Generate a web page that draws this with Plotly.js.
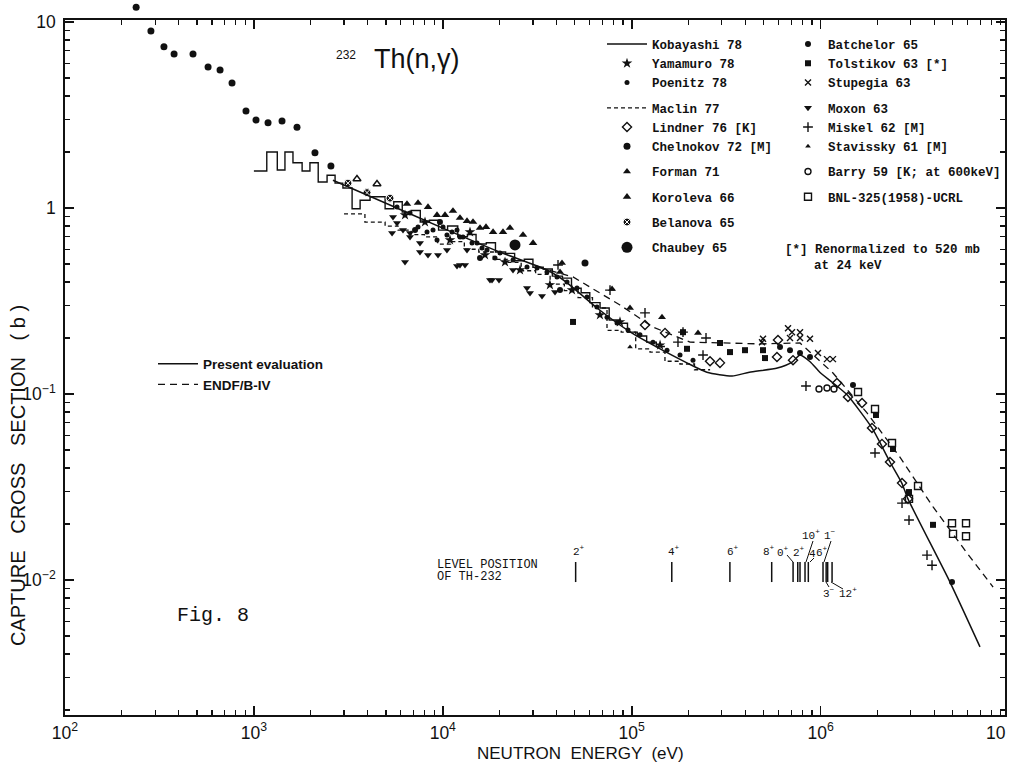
<!DOCTYPE html>
<html>
<head>
<meta charset="utf-8">
<script src="https://cdn.plot.ly/plotly-3.0.1.min.js"></script>
<style>html,body{margin:0;padding:0;background:#fff}#chart{width:1009px;height:762px}</style>
</head>
<body>
<div id="chart"></div>
<script>
// ---------------- data (E in eV, sigma in barn) ----------------
const presentE = [2620, 5000, 10000, 20000, 35600, 45000, 65500, 100000, 130000, 196000, 250000, 340000, 420000, 590000, 710000, 778000, 880000, 990000, 1160000, 1380000, 1870000, 2330000, 2690000, 2900000, 4840000, 6980000];
const presentS = [1.41, 1.06, 0.78, 0.58, 0.464, 0.40, 0.29, 0.213, 0.183, 0.147, 0.131, 0.125, 0.131, 0.138, 0.149, 0.162, 0.149, 0.131, 0.115, 0.099, 0.0657, 0.0431, 0.0332, 0.0273, 0.00975, 0.00437];

const endfE = [32000, 48900, 86700, 129600, 203500, 478000, 778000, 1163000, 1761000, 2630000, 3940000, 5960000, 8190000];
const endfS = [0.48, 0.426, 0.301, 0.229, 0.190, 0.186, 0.188, 0.1297, 0.0791, 0.0458, 0.0247, 0.01396, 0.00916];

const kobayashiE = [1000, 1170, 1330, 1460, 1610, 1800, 1980, 2190, 2440, 2690, 2960, 3310, 3650, 4120, 4950, 5500, 6100, 6800, 7600, 8500, 9500, 10600, 12000, 13500, 15000, 17000, 19000, 21500, 24000, 27000, 30000, 34000, 38000, 43000, 48000, 54000, 60000, 68000, 76000, 85000, 95000, 107000, 120000, 135000, 150000];
const kobayashiS = [1.58, 2.0, 1.6, 2.0, 1.75, 1.58, 1.75, 1.38, 1.50, 1.36, 1.28, 0.99, 1.10, 1.15, 0.99, 1.08, 0.95, 0.97, 0.84, 0.86, 0.76, 0.80, 0.70, 0.72, 0.64, 0.65, 0.58, 0.57, 0.52, 0.53, 0.48, 0.47, 0.43, 0.42, 0.37, 0.35, 0.31, 0.29, 0.25, 0.24, 0.215, 0.205, 0.19, 0.18, 0.18];

const maclinE = [3000, 3870, 4950, 5800, 6800, 8000, 9400, 11000, 13000, 15500, 18500, 22000, 26000, 31000, 37000, 44000, 52000, 62000, 74000, 88000, 105000, 125000, 150000, 180000, 215000, 260000];
const maclinS = [0.93, 0.84, 0.80, 0.76, 0.72, 0.70, 0.64, 0.66, 0.60, 0.58, 0.53, 0.51, 0.46, 0.44, 0.39, 0.36, 0.33, 0.29, 0.22, 0.215, 0.175, 0.168, 0.15, 0.145, 0.135, 0.135];

const yamamuroE = [6310, 8050, 10920, 13930, 16730, 21350, 25630, 36900, 48300, 67900, 86700, 141300];
const yamamuroS = [0.917, 0.841, 0.673, 0.743, 0.559, 0.512, 0.464, 0.386, 0.362, 0.266, 0.244, 0.183];

const poenitzE = [5722, 6705, 7393, 8248, 8874, 9318, 10030, 10520, 11190, 11890, 12330, 12790, 14280, 15180, 16130, 17140, 18900, 20090, 23530, 27910, 31540, 35610, 40240, 45450, 51330, 58000, 65500, 74000, 83600, 95600, 110600, 129600, 153800, 180200, 211100];
const poenitzS = [1.012, 0.940, 0.790, 0.743, 0.762, 0.673, 0.790, 0.716, 0.743, 0.762, 0.698, 0.698, 0.648, 0.648, 0.609, 0.594, 0.538, 0.573, 0.525, 0.482, 0.476, 0.453, 0.426, 0.400, 0.371, 0.332, 0.294, 0.259, 0.241, 0.221, 0.208, 0.190, 0.172, 0.162, 0.152];

const lindnerE = [117600, 150100, 259800, 293400, 594800, 587600, 714400, 1221000, 1396000, 1657000, 1871000, 2113000, 2330000, 2698000, 2902000];
const lindnerS = [0.235, 0.213, 0.150, 0.147, 0.195, 0.158, 0.152, 0.1146, 0.0964, 0.0895, 0.0657, 0.0539, 0.0431, 0.0332, 0.0273];

const chelnokovE = [238, 285, 334, 378, 476, 572, 662, 766, 908, 1026, 1188, 1409, 1691, 2105, 2557, 56600];
const chelnokovS = [12.0, 8.95, 7.35, 6.73, 6.73, 5.73, 5.52, 4.70, 3.32, 2.97, 2.87, 2.94, 2.72, 1.98, 1.68, 0.506];

const formanE = [41730, 42760, 78700, 97950, 144700, 224400];
const formanS = [0.453, 0.506, 0.367, 0.290, 0.259, 0.213];
const formanOpenE = [3513, 4484];
const formanOpenS = [1.432, 1.346];

const korolevaE = [6462, 7393, 8349, 9318, 10270, 11320, 12330, 13430, 14450, 15740, 16930, 18450, 20830, 22680, 26580, 30040];
const korolevaS = [1.051, 1.064, 1.012, 0.917, 0.917, 0.964, 0.884, 0.851, 0.841, 0.781, 0.790, 0.743, 0.743, 0.781, 0.716, 0.648];

const belanovaE = [3148, 3970, 5254];
const belanovaS = [1.36, 1.21, 1.13];

const chaubeyE = [24110];
const chaubeyS = [0.633];

const batchelorE = [7130, 9660, 15740, 41730, 609700, 688700, 778000, 878700, 1484000, 4963000];
const batchelorS = [0.762, 0.841, 0.538, 0.362, 0.179, 0.172, 0.166, 0.158, 0.1118, 0.00975];

const tolstikovE = [48910, 186900, 196200, 293400, 331400, 398000, 495600, 507800, 1965000, 2417000, 2938000, 3936000];
const tolstikovS = [0.244, 0.215, 0.175, 0.188, 0.168, 0.172, 0.172, 0.156, 0.0771, 0.0506, 0.0297, 0.0198];

const stupegiaE = [489600, 495600, 672200, 688700, 705700, 778000, 778000, 878700, 968700, 1081000, 1163000];
const stupegiaS = [0.190, 0.198, 0.226, 0.200, 0.215, 0.215, 0.200, 0.198, 0.166, 0.154, 0.154];

const moxonE = [5388, 5451, 5722, 6157, 6310, 6705, 6705, 7572, 7572, 8349, 9433, 10520, 11890, 12330, 13110, 13430, 17780, 18220, 19840, 23530, 27910, 28950, 33510, 39260];
const moxonS = [0.734, 0.895, 0.831, 0.762, 0.512, 0.698, 0.734, 0.580, 0.648, 0.559, 0.559, 0.594, 0.488, 0.494, 0.494, 0.594, 0.410, 0.41, 0.410, 0.464, 0.371, 0.349, 0.336, 0.353];

const miskelE = [40730, 76770, 117600, 175800, 186900, 238500, 247400, 836800, 1941000, 2698000, 2938000, 3658000, 3889000];
const miskelS = [0.494, 0.362, 0.273, 0.190, 0.215, 0.162, 0.200, 0.1104, 0.0482, 0.0259, 0.0210, 0.0136, 0.0120];

const staviskyE = [97950];
const staviskyS = [0.179];

const barryE = [980600, 1081000, 1177000];
const barryS = [0.1064, 0.1077, 0.1064];

const bnlE = [1578000, 1941000, 2388000, 2938000, 3279000, 4963000, 5023000, 5885000, 5885000];
const bnlS = [0.1025, 0.0831, 0.0545, 0.0273, 0.0320, 0.0202, 0.0177, 0.0202, 0.0172];

// level positions of Th-232 (equivalent neutron energy, eV)
const levelE = [50500, 163000, 331000, 551000, 715000, 757000, 778000, 827000, 861000, 1030000, 1070000, 1090000, 1150000];
const levelBottom = 0.00975, levelTop = 0.0125;

// ---------------- layout helpers ----------------
const INK = '#111';
// frame in pixels: x=65..1005, y=20..715; drawing area extends up to y=0
const L = 65, R = 1005, T = 20, B = 715, TOPPAD = 0;
function P(px, py) { return { x: (px - L) / (R - L), y: (B - py) / (B - TOPPAD) }; }
const MONO = 'Liberation Mono, Courier New, monospace';
const SANS = 'Liberation Sans, Arial, sans-serif';
const PX_PER_DEC_X = 188.9, PX_PER_DEC_Y = 186, Y10 = 22;

function pts(name, E, S, symbol, size, legend, group, extra) {
  const open = /open/.test(symbol);
  const t = {
    type: 'scatter', mode: 'markers', name: name, x: E, y: S,
    legend: legend, legendgroup: group, hoverinfo: 'skip',
    marker: { symbol: symbol, size: size, color: INK, line: { color: INK, width: open ? 1.4 : 0 } }
  };
  return Object.assign(t, extra || {});
}

const traces = [];
// left legend column
traces.push({ type: 'scatter', mode: 'lines', name: 'Kobayashi 78', x: kobayashiE, y: kobayashiS,
  line: { shape: 'hv', color: INK, width: 1.4 }, legend: 'legend', legendgroup: 'a', hoverinfo: 'skip' });
traces.push(pts('Yamamuro 78', yamamuroE, yamamuroS, 'star', 8, 'legend', 'a'));
traces.push(pts('Poenitz 78', poenitzE, poenitzS, 'circle', 5, 'legend', 'a'));
traces.push({ type: 'scatter', mode: 'lines', name: 'Maclin 77', x: maclinE, y: maclinS,
  line: { shape: 'hv', color: INK, width: 1.3, dash: '4px,3px' }, legend: 'legend', legendgroup: 'b', hoverinfo: 'skip' });
traces.push(pts('Lindner 76 [K]', lindnerE, lindnerS, 'diamond-open', 7, 'legend', 'b'));
// Chelnokov drawn on a taller twin axis pair (same scale) so the point above the frame stays visible
traces.push(pts('Chelnokov 72 [M]', chelnokovE, chelnokovS, 'circle', 7, 'legend', 'b', { xaxis: 'x2', yaxis: 'y2' }));
traces.push(pts('Forman 71', formanE, formanS, 'triangle-up', 7, 'legend', 'c'));
traces.push(pts('Forman 71 (open)', formanOpenE, formanOpenS, 'triangle-up-open', 7, 'legend', 'c', { showlegend: false }));
traces.push(pts('Koroleva 66', korolevaE, korolevaS, 'triangle-up', 7.5, 'legend', 'd'));
traces.push(pts('Belanova 65', belanovaE, belanovaS, 'circle-x', 8, 'legend', 'e', { marker: { symbol: 'circle-x', size: 8, color: INK, line: { color: '#fff', width: 1 } } }));
traces.push(pts('Chaubey 65', chaubeyE, chaubeyS, 'circle', 11, 'legend', 'f'));
// right legend column
traces.push(pts('Batchelor 65', batchelorE, batchelorS, 'circle', 6, 'legend2', 'p'));
traces.push(pts('Tolstikov 63 [*]', tolstikovE, tolstikovS, 'square', 6, 'legend2', 'p'));
traces.push(pts('Stupegia 63', stupegiaE, stupegiaS, 'x-thin-open', 6, 'legend2', 'p'));
traces.push(pts('Moxon 63', moxonE, moxonS, 'triangle-down', 7, 'legend2', 'q'));
traces.push(pts('Miskel 62 [M]', miskelE, miskelS, 'cross-thin-open', 7, 'legend2', 'q'));
traces.push(pts('Stavissky 61 [M]', staviskyE, staviskyS, 'triangle-up', 5, 'legend2', 'q'));
traces.push(pts('Barry 59 [K; at 600keV]', barryE, barryS, 'circle-open', 6, 'legend2', 'r'));
traces.push(pts('BNL-325(1958)-UCRL', bnlE, bnlS, 'square-open', 7, 'legend2', 's'));
// evaluations
traces.push({ type: 'scatter', mode: 'lines', name: 'Present evaluation', x: presentE, y: presentS,
  line: { shape: 'spline', smoothing: 0.6, color: INK, width: 1.5 }, legend: 'legend3', hoverinfo: 'skip' });
traces.push({ type: 'scatter', mode: 'lines', name: 'ENDF/B-IV', x: endfE, y: endfS,
  line: { color: INK, width: 1.3, dash: '7px,5px' }, legend: 'legend3', hoverinfo: 'skip' });
// level position ticks
const lvX = [], lvY = [];
levelE.forEach(function (e) { lvX.push(e, e, null); lvY.push(levelBottom, levelTop, null); });
traces.push({ type: 'scatter', mode: 'lines', x: lvX, y: lvY, showlegend: false, hoverinfo: 'skip',
  line: { color: INK, width: 1.5 } });

// ---------------- annotations ----------------
function ann(text, px, py, size, family, opts) {
  const p = P(px, py);
  return Object.assign({ xref: 'paper', yref: 'paper', x: p.x, y: p.y, text: text, showarrow: false,
    font: { family: family, size: size, color: INK }, xanchor: 'center', yanchor: 'middle' }, opts || {});
}
const levelLabels = [
  ['2<sup>+</sup>', 579, 551], ['4<sup>+</sup>', 674, 551], ['6<sup>+</sup>', 733, 551], ['8<sup>+</sup>', 769, 551],
  ['0<sup>+</sup>', 783, 552], ['2<sup>+</sup>', 799, 552], ['4', 812, 554], ['6<sup>+</sup>', 822, 552],
  ['10<sup>+</sup>', 811, 535], ['1<sup>\u2212</sup>', 830, 535], ['3<sup>\u2212</sup>', 829, 593], ['12<sup>+</sup>', 848, 593]
];
const annotations = [
  ann('232', 346, 55, 12, SANS),
  ann('Th(n,\u03b3)', 417, 59, 27, SANS),
  ann('[*] Renormalized to 520 mb', 783, 250, 12.5, MONO, { xanchor: 'left', font: { family: MONO, size: 12.5, color: INK, weight: 'bold' } }),
  ann('at 24 keV', 812, 266, 12.5, MONO, { xanchor: 'left', font: { family: MONO, size: 12.5, color: INK, weight: 'bold' } }),
  ann('LEVEL POSITION', 435, 565, 12, MONO, { xanchor: 'left' }),
  ann('OF TH-232', 435, 577, 12, MONO, { xanchor: 'left' }),
  ann('Fig. 8', 175, 615, 20, MONO, { xanchor: 'left' }),
  ann('CAPTURE   CROSS   SECTION   ( b )', 18, 476, 20, SANS, { textangle: -90 }),
  ann('NEUTRON  ENERGY  (eV)', 580, 753, 17, SANS),
  ann('10', 1008, 733, 17.5, SANS, { xanchor: 'right' })
];
levelLabels.forEach(function (l) { annotations.push(ann(l[0], l[1], l[2], 11, MONO)); });

function seg(x0, y0, x1, y1) {
  const a = P(x0, y0), b = P(x1, y1);
  return { type: 'line', xref: 'paper', yref: 'paper', x0: a.x, y0: a.y, x1: b.x, y1: b.y, line: { color: INK, width: 1 } };
}
const shapes = [
  seg(787, 555, 793, 562), seg(813, 541, 806, 562), seg(831, 541, 824, 562),
  seg(814, 558, 810, 562), seg(826, 582, 829, 587), seg(831, 582, 843, 589)
];

// ---------------- axes ----------------
function axis(range) {
  return {
    type: 'log', range: range, dtick: 1, exponentformat: 'power',
    showgrid: false, zeroline: false, showline: true, linewidth: 2.4, linecolor: INK, mirror: 'allticks',
    ticks: 'inside', ticklen: 9, tickwidth: 1.6, tickcolor: INK, ticklabelstandoff: 1,
    tickfont: { family: SANS, size: 14, color: INK },
    minor: { ticks: 'inside', ticklen: 5, tickwidth: 1.2, tickcolor: INK, dtick: 'D1', showgrid: false }
  };
}
const xRange = [2, 2 + (R - L) / PX_PER_DEC_X];
const yBottom = 1 - (B - Y10) / PX_PER_DEC_Y;
const yaxis = axis([yBottom, 1 + (Y10 - T) / PX_PER_DEC_Y]);
yaxis.domain = [0, (B - T) / (B - TOPPAD)];
yaxis.ticklabelstandoff = 4;
const lg1 = P(602, 29.4), lg2 = P(788, 29.4), lg3 = P(153, 348.5);
const layout = {
  width: 1009, height: 762,
  margin: { l: L, r: 1009 - R, t: TOPPAD, b: 762 - B, pad: 0 },
  paper_bgcolor: '#fff', plot_bgcolor: 'rgba(0,0,0,0)',
  hovermode: false,
  xaxis: axis(xRange),
  yaxis: yaxis,
  xaxis2: { type: 'log', domain: [0, 1], anchor: 'y2', visible: false, range: xRange },
  yaxis2: { type: 'log', domain: [0, 1], anchor: 'x2', visible: false,
    range: [yBottom, 1 + (Y10 - TOPPAD) / PX_PER_DEC_Y] },
  legend: { x: lg1.x, y: lg1.y, xanchor: 'left', yanchor: 'top', bgcolor: 'rgba(0,0,0,0)', borderwidth: 0,
    traceorder: 'grouped', tracegroupgap: 6, itemwidth: 40,
    font: { family: MONO, size: 12.5, color: INK, weight: 'bold' } },
  legend2: { x: lg2.x, y: lg2.y, xanchor: 'left', yanchor: 'top', bgcolor: 'rgba(0,0,0,0)', borderwidth: 0,
    traceorder: 'grouped', tracegroupgap: 6, itemwidth: 30,
    font: { family: MONO, size: 12.5, color: INK, weight: 'bold' } },
  legend3: { x: lg3.x, y: lg3.y, xanchor: 'left', yanchor: 'top', bgcolor: 'rgba(0,0,0,0)', borderwidth: 0,
    itemwidth: 40, font: { family: SANS, size: 13.5, color: INK, weight: 'bold' } },
  annotations: annotations,
  shapes: shapes
};
Plotly.newPlot('chart', traces, layout, { displayModeBar: false, staticPlot: true });
</script>
</body>
</html>
